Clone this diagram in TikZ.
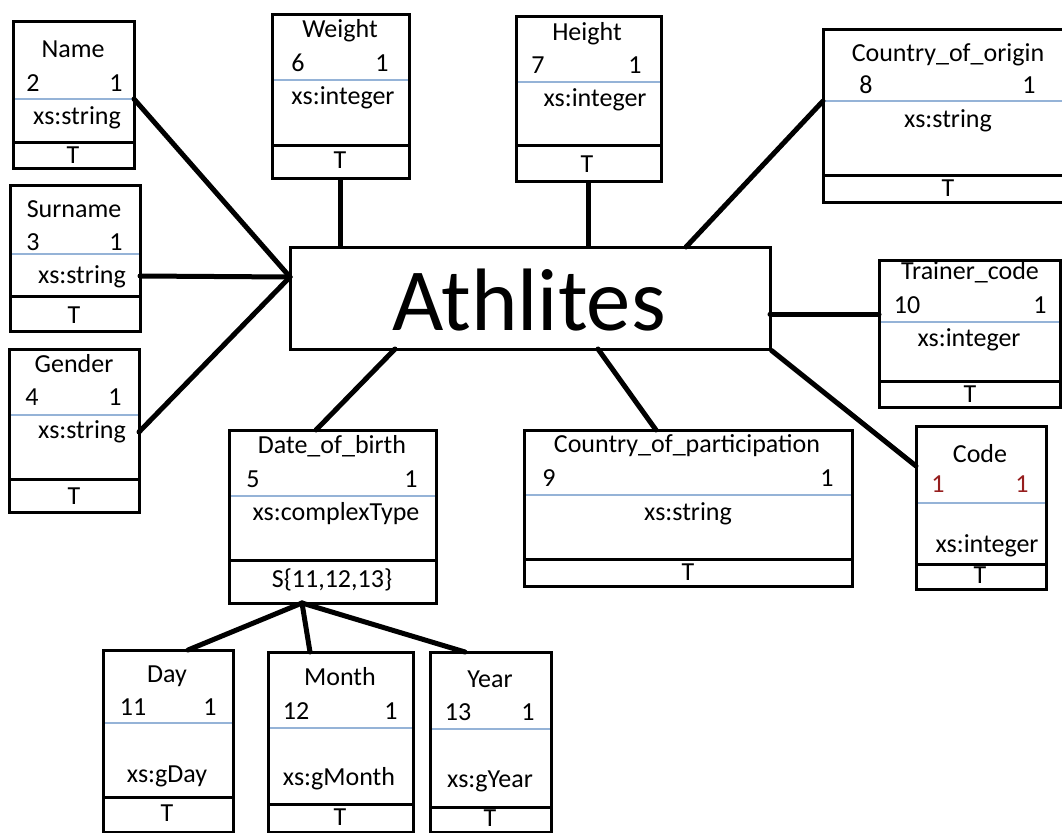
\documentclass[tikz,border=0pt]{standalone}
\usepackage{fontspec}
\setmainfont{Carlito}
\usetikzlibrary{fit}
\definecolor{seprule}{RGB}{149,179,215}
\definecolor{idred}{RGB}{150,30,30}
\tikzset{
  attrframe/.style={draw, line width=2.25pt, inner sep=0pt},
  bluerule/.style={draw=seprule, line width=1.1pt},
  divrule/.style={line width=2.25pt},
  link/.style={line width=3.75pt, line cap=round},
  lbl/.style={anchor=base, inner sep=0pt, font=\fontsize{19.5pt}{23pt}\selectfont},
  biglbl/.style={anchor=base, inner sep=0pt, font=\fontsize{66.5pt}{80pt}\selectfont},
}
% attribute box: name, left, top, right, bottom, blue rule y, divider y
\newcommand{\attrbox}[7]{%
  \draw[bluerule] (#2,#6) -- (#4,#6);
  \draw[divrule] (#2,#7) -- (#4,#7);
  \node[attrframe, fit={(#2,#3) (#4,#5)}] (#1) {};
}
\begin{document}
\begin{tikzpicture}[x=0.75pt, y=-0.75pt]
\clip (0,0) rectangle (1062,832);
\fill[white] (0,0) rectangle (1062,832);

% central element
\node[attrframe, fit={(290,247) (770,349)}] (athl) {};
\node[biglbl] (athl-t) at (529,330) {Athlites};

% attribute boxes
\attrbox{name}{13}{21}{134}{168}{99}{142}
\attrbox{surname}{10}{185}{140}{331}{254}{296}
\attrbox{gender}{9}{349}{139}{512}{415}{479}
\attrbox{weight}{272}{14}{409}{178}{80}{145}
\attrbox{height}{516}{16}{661}{181}{82}{145}
\attrbox{origin}{823}{29}{1068}{202}{101}{175}
\attrbox{trainer}{879}{260}{1060}{407}{322}{381}
\attrbox{code}{916}{426}{1046}{589}{503}{564}
\attrbox{dob}{229}{430}{436}{603}{496}{560}
\attrbox{cop}{524}{430}{852}{586}{495}{559}
\attrbox{day}{103}{650}{233}{832}{723}{797}
\attrbox{month}{268}{652}{413}{832}{728}{804}
\attrbox{year}{430}{652}{551}{832}{729}{807}

% labels
\node[lbl] (name-t) at (73,57) {Name};
\node[lbl] (name-a) at (33,91) {2};
\node[lbl] (name-b) at (116,91) {1};
\node[lbl] (name-c) at (77,124) {xs:string};
\node[lbl] (name-d) at (73,163) {T};

\node[lbl] (surname-t) at (74,217) {Surname};
\node[lbl] (surname-a) at (33,250) {3};
\node[lbl] (surname-b) at (116,250) {1};
\node[lbl] (surname-c) at (82,283) {xs:string};
\node[lbl] (surname-d) at (74,323) {T};

\node[lbl] (gender-t) at (74,372) {Gender};
\node[lbl] (gender-a) at (32,405) {4};
\node[lbl] (gender-b) at (115,405) {1};
\node[lbl] (gender-c) at (82,438) {xs:string};
\node[lbl] (gender-d) at (74,504) {T};

\node[lbl] (weight-t) at (340,37) {Weight};
\node[lbl] (weight-a) at (298,71) {6};
\node[lbl] (weight-b) at (382,71) {1};
\node[lbl] (weight-c) at (343,104) {xs:integer};
\node[lbl] (weight-d) at (340,168) {T};

\node[lbl] (height-t) at (587,40) {Height};
\node[lbl] (height-a) at (538,73) {7};
\node[lbl] (height-b) at (635,73) {1};
\node[lbl] (height-c) at (595,106) {xs:integer};
\node[lbl] (height-d) at (587,172) {T};

\node[lbl] (origin-t) at (948,61) {Country\_of\_origin};
\node[lbl] (origin-a) at (866,93) {8};
\node[lbl] (origin-b) at (1029,93) {1};
\node[lbl] (origin-c) at (948,127) {xs:string};
\node[lbl] (origin-d) at (948,196) {T};

\node[lbl] (trainer-t) at (970,279) {Trainer\_code};
\node[lbl] (trainer-a) at (907,313) {10};
\node[lbl] (trainer-b) at (1040,313) {1};
\node[lbl] (trainer-c) at (969,346) {xs:integer};
\node[lbl] (trainer-d) at (970,402) {T};

\node[lbl] (code-t) at (980,462) {Code};
\node[lbl, text=idred] (code-a) at (938,492) {1};
\node[lbl, text=idred] (code-b) at (1022,492) {1};
\node[lbl] (code-c) at (987,552) {xs:integer};
\node[lbl] (code-d) at (980,583) {T};

\node[lbl] (dob-t) at (332,453) {Date\_of\_birth};
\node[lbl] (dob-a) at (253,487) {5};
\node[lbl] (dob-b) at (411,487) {1};
\node[lbl] (dob-c) at (336,520) {xs:complexType};
\node[lbl] (dob-d) at (332,587) {S\{11,12,13\}};

\node[lbl] (cop-t) at (687,452) {Country\_of\_participation};
\node[lbl] (cop-a) at (549,486) {9};
\node[lbl] (cop-b) at (827,486) {1};
\node[lbl] (cop-c) at (688,520) {xs:string};
\node[lbl] (cop-d) at (688,580) {T};

\node[lbl] (day-t) at (167,682) {Day};
\node[lbl] (day-a) at (133,715) {11};
\node[lbl] (day-b) at (210,715) {1};
\node[lbl] (day-c) at (167,782) {xs:gDay};
\node[lbl] (day-d) at (167,821) {T};

\node[lbl] (month-t) at (340,685) {Month};
\node[lbl] (month-a) at (296,719) {12};
\node[lbl] (month-b) at (391,719) {1};
\node[lbl] (month-c) at (339,785) {xs:gMonth};
\node[lbl] (month-d) at (340,825) {T};

\node[lbl] (year-t) at (490,687) {Year};
\node[lbl] (year-a) at (458,720) {13};
\node[lbl] (year-b) at (528,720) {1};
\node[lbl] (year-c) at (490,787) {xs:gYear};
\node[lbl] (year-d) at (490,826) {T};

% attachment points
\coordinate (athl-w) at (290,277);
\coordinate (athl-ne) at (686,247);
\coordinate (athl-e) at (770,314);
\coordinate (athl-sw) at (395,349);
\coordinate (athl-s) at (598,349);
\coordinate (name-p) at (134,99);
\coordinate (surname-p) at (140,276);
\coordinate (gender-p) at (139,432);
\coordinate (origin-p) at (823,101);
\coordinate (trainer-p) at (879,314);
\coordinate (code-p) at (916,466);
\coordinate (dob-p) at (316,430);
\coordinate (dob-q) at (302,603);
\coordinate (cop-p) at (656,430);
\coordinate (day-p) at (188,650);
\coordinate (month-p) at (310,652);
\coordinate (year-p) at (465,652);

% connectors
\draw[link] (name-p) -- (athl-w);
\draw[link] (surname-p) -- (athl-w);
\draw[link] (gender-p) -- (athl-w);
\draw[link] (weight.south) -- (weight.south |- athl.north);
\draw[link] (height.south) -- (height.south |- athl.north);
\draw[link] (athl-ne) -- (origin-p);
\draw[link] (athl-e) -- (trainer-p);
\draw[link] (athl.south east) -- (code-p);
\draw[link] (athl-sw) -- (dob-p);
\draw[link] (athl-s) -- (cop-p);
\draw[link] (dob-q) -- (day-p);
\draw[link] (dob-q) -- (month-p);
\draw[link] (dob-q) -- (year-p);
\end{tikzpicture}
\end{document}
